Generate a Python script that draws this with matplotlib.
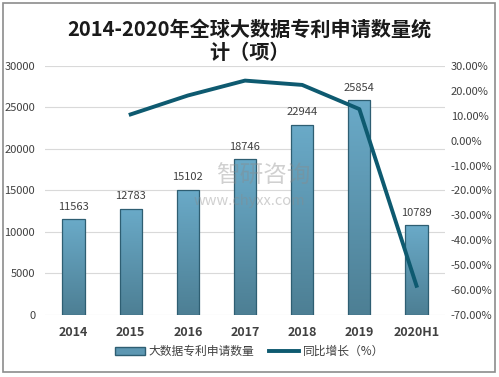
import matplotlib.pyplot as plt
import numpy as np
from matplotlib.patches import Rectangle
from matplotlib.lines import Line2D
from matplotlib.colors import LinearSegmentedColormap

plt.rcParams['font.family'] = ['Noto Sans CJK SC', 'DejaVu Sans']

years = ['2014', '2015', '2016', '2017', '2018', '2019', '2020H1']
patents = [11563, 12783, 15102, 18746, 22944, 25854, 10789]
growth = [None, 10.56, 18.14, 24.13, 22.39, 12.68, -58.27]   # %

fig = plt.figure(figsize=(4.99, 3.77), dpi=100)
# 外框
fig.patches.append(Rectangle((0.006, 0.013), 0.986, 0.98, transform=fig.transFigure,
                             fill=False, edgecolor='#8c8c8c', linewidth=1.2))

ax = fig.add_axes([0.09, 0.1645, 0.802, 0.6605])
x = np.arange(len(years))

# 柱状图（渐变）
bars = ax.bar(x, patents, width=0.39, color='none', edgecolor='#2e5e72', linewidth=0.9, zorder=3)
grad = np.linspace(0, 1, 100).reshape(-1, 1)
cmap = LinearSegmentedColormap.from_list('g', ['#4d7f94', '#6aaac8'])
for b in bars:
    bx, by = b.get_x(), b.get_y()
    w, h = b.get_width(), b.get_height()
    im = ax.imshow(grad, extent=[bx, bx + w, by, by + h], origin='lower', cmap=cmap,
                   aspect='auto', zorder=2)
    im.set_clip_path(b)

for xi, v in zip(x, patents):
    ax.text(xi, v + 900, str(v), ha='center', va='bottom', fontsize=8, color='#404040', zorder=5)

ax.set_xlim(-0.5, len(years) - 0.5)
ax.set_ylim(0, 30000)
ax.set_yticks(range(0, 30001, 5000))
ax.yaxis.grid(True, color='#d9d9d9', linewidth=0.8, zorder=0)
ax.set_axisbelow(True)
for s in ax.spines.values():
    s.set_visible(False)
ax.tick_params(axis='y', length=0, labelsize=8, labelcolor='#404040', pad=7)
ax.tick_params(axis='x', length=0, pad=8)
ax.set_xticks(x)
ax.set_xticklabels(years, fontsize=9, fontweight='bold', color='#404040')

# 折线（右轴）
ax2 = ax.twinx()
gx = [xi for xi, g in zip(x, growth) if g is not None]
gy = [g / 100 for g in growth if g is not None]
ax2.plot(gx, gy, color='#0e5a70', linewidth=2.8, zorder=4)
ax2.set_ylim(-0.7, 0.3)
rt = np.arange(-0.7, 0.31, 0.1)
ax2.set_yticks(rt)
ax2.set_yticklabels(['%.2f%%' % (t * 100) if abs(t) > 1e-9 else '0.00%' for t in rt])
ax2.tick_params(axis='y', length=0, labelsize=8, labelcolor='#404040', pad=4)
for s in ax2.spines.values():
    s.set_visible(False)

fig.text(0.5, 0.893, '2014-2020年全球大数据专利申请数量统\n计（项）', ha='center', va='center',
         fontsize=14.5, fontweight='bold', color='#1a1a1a', linespacing=1.15)

# 水印
fig.text(0.527, 0.533, '智研咨询', fontsize=17, color='#8a8a8a', alpha=0.4, ha='center', va='center', zorder=10)
fig.text(0.50, 0.467, 'www.chyxx.com', fontsize=10.5, color='#8a8a8a', alpha=0.4, ha='center', va='center', zorder=10)

handles = [Rectangle((0, 0), 1, 1, facecolor='#5d97b2', edgecolor='#2e5e72'),
           Line2D([], [], color='#0e5a70', linewidth=2.8)]
fig.legend(handles, ['大数据专利申请数量', '同比增长（%）'], loc='center', bbox_to_anchor=(0.5, 0.068),
           ncol=2, frameon=False, fontsize=8.5, handlelength=2.6, columnspacing=1.2, handletextpad=0.3,
           labelcolor='#404040')

plt.savefig('out.png', dpi=100)
